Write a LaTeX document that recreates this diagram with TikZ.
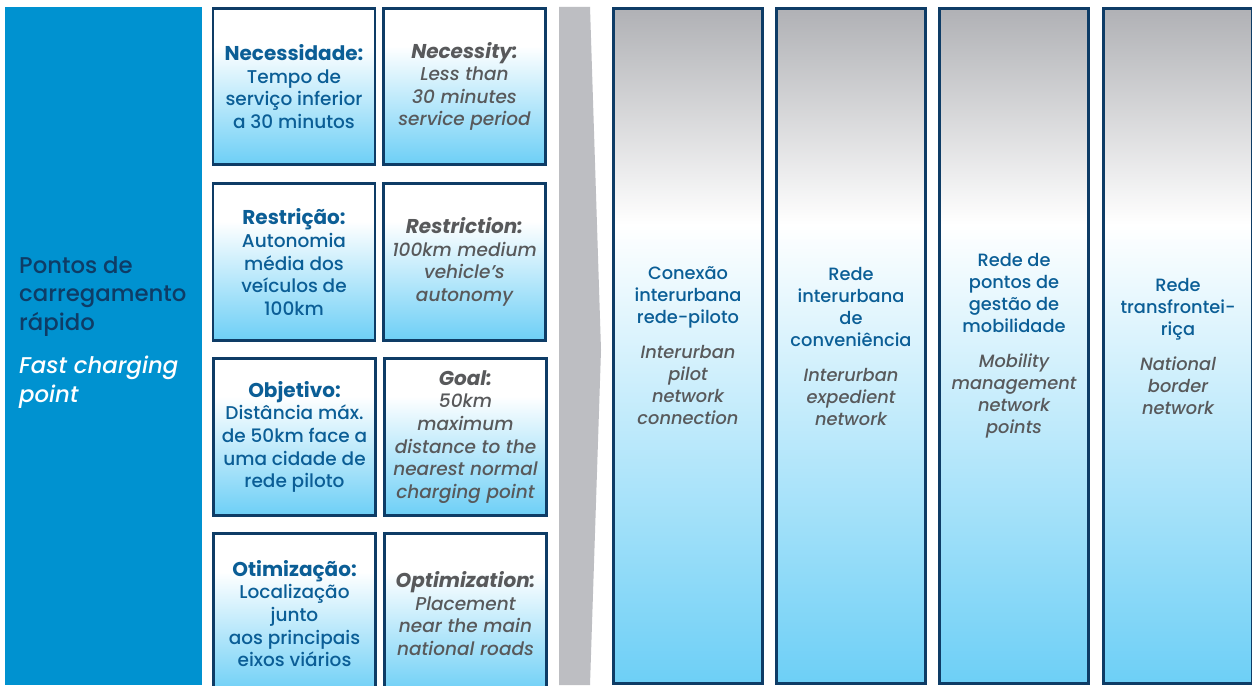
\documentclass[tikz,border=0pt]{standalone}
\usepackage{fontspec}
\setmainfont{Poppins}[UprightFont=* Medium, ItalicFont=* Medium Italic, BoldFont=* Bold, BoldItalicFont=* Bold Italic]
\definecolor{panelblue}{HTML}{0092D0}
\definecolor{navy}{HTML}{0E3C66}
\definecolor{ptblue}{HTML}{0B5E96}
\definecolor{engray}{HTML}{58595B}
\definecolor{arrowgray}{HTML}{BDBEC2}
\definecolor{topgray}{HTML}{B0B1B5}
\definecolor{skyblue}{HTML}{6DCFF6}
% card fill: white on top, sky blue at the bottom
\pgfdeclareverticalshading{cardfill}{100bp}{color(0bp)=(skyblue); color(25bp)=(skyblue); color(63bp)=(white); color(100bp)=(white)}
% column fill: grey on top, white, then sky blue
\pgfdeclareverticalshading{columnfill}{100bp}{color(0bp)=(skyblue); color(25bp)=(skyblue); color(59bp)=(white); color(75bp)=(topgray); color(100bp)=(topgray)}
\newcommand{\headsize}{\fontsize{20}{22.6}\selectfont}
\tikzset{
  card/.style={draw=navy, line width=2.8pt, shade, shading=cardfill, minimum width=162pt, inner sep=0pt, align=center},
  ptcard/.style={card, text=ptblue, font=\fontsize{18.5}{22.6}\selectfont},
  encard/.style={card, text=engray, font=\fontsize{18.5}{22.6}\selectfont\itshape},
  column/.style={draw=navy, line width=2.8pt, shade, shading=columnfill, minimum width=149pt, minimum height=675pt, inner sep=0pt, align=center, text=ptblue, font=\fontsize{17.8}{22}\selectfont}
}
\begin{document}
\begin{tikzpicture}[x=1pt,y=-1pt]
\useasboundingbox (0,0) rectangle (1252,685);
\clip (0,0) rectangle (1252,685);
\fill[white] (0,0) rectangle (1252,685);

% left panel
\node[fill=panelblue, minimum width=197pt, minimum height=678pt, inner sep=0pt] (panel) at (103.5,346) {};
\node[anchor=west, align=left, inner sep=0pt, font=\fontsize{22.8}{28.5}\selectfont] (paneltext) at (19,332.5)
  {\textcolor{navy}{Pontos de}\\\textcolor{navy}{carregamento}\\\textcolor{navy}{rápido}\\[15pt]
   \textcolor{white}{\itshape Fast charging}\\\textcolor{white}{\itshape point}};

% row 1
\node[ptcard, minimum height=156pt] (need) at (294,86.5)
  {{\headsize\bfseries Necessidade:}\\Tempo de\\serviço inferior\\a 30 minutos};
\node[encard, minimum height=156pt] (needen) at (464.5,86.5)
  {{\headsize\bfseries Necessity:}\\Less than\\30 minutes\\service period};
% row 2
\node[ptcard, minimum height=157pt] (restr) at (294,262)
  {{\headsize\bfseries Restrição:}\\Autonomia\\média dos\\veículos de\\100km};
\node[encard, minimum height=157pt] (restren) at (464.5,262)
  {{\headsize\bfseries Restriction:}\\100km medium\\vehicle’s\\autonomy};
% row 3
\node[ptcard, minimum height=157pt] (goal) at (294.5,437)
  {{\headsize\bfseries Objetivo:}\\Distância máx.\\de 50km face a\\uma cidade de\\rede piloto};
\node[encard, minimum height=157pt] (goalen) at (465.5,437)
  {{\headsize\bfseries Goal:}\\50km\\maximum\\distance to the\\nearest normal\\charging point};
% row 4
\node[ptcard, minimum height=160pt] (optim) at (294.5,613.5)
  {{\headsize\bfseries Otimização:}\\Localização\\junto\\aos principais\\eixos viários};
\node[encard, minimum height=160pt] (optimen) at (465.5,613.5)
  {{\headsize\bfseries Optimization:}\\Placement\\near the main\\national roads};

% chevron band
\fill[arrowgray] (559,7) -- (590,7) -- (601,350) -- (590,685) -- (559,685) -- cycle;

% network columns
\node[column] (col1) at (688,346)
  {Conexão\\interurbana\\rede-piloto\\[13pt]
   \textcolor{engray}{\itshape Interurban}\\\textcolor{engray}{\itshape pilot}\\\textcolor{engray}{\itshape network}\\\textcolor{engray}{\itshape connection}};
\node[column] (col2) at (851,346)
  {Rede\\interurbana\\de\\conveniência\\[13pt]
   \textcolor{engray}{\itshape Interurban}\\\textcolor{engray}{\itshape expedient}\\\textcolor{engray}{\itshape network}};
\node[column] (col3) at (1014,346)
  {Rede de\\pontos de\\gestão de\\mobilidade\\[13pt]
   \textcolor{engray}{\itshape Mobility}\\\textcolor{engray}{\itshape management}\\\textcolor{engray}{\itshape network}\\\textcolor{engray}{\itshape points}};
\node[column] (col4) at (1178,346)
  {Rede\\transfrontei-\\riça\\[13pt]
   \textcolor{engray}{\itshape National}\\\textcolor{engray}{\itshape border}\\\textcolor{engray}{\itshape network}};
\end{tikzpicture}
\end{document}
